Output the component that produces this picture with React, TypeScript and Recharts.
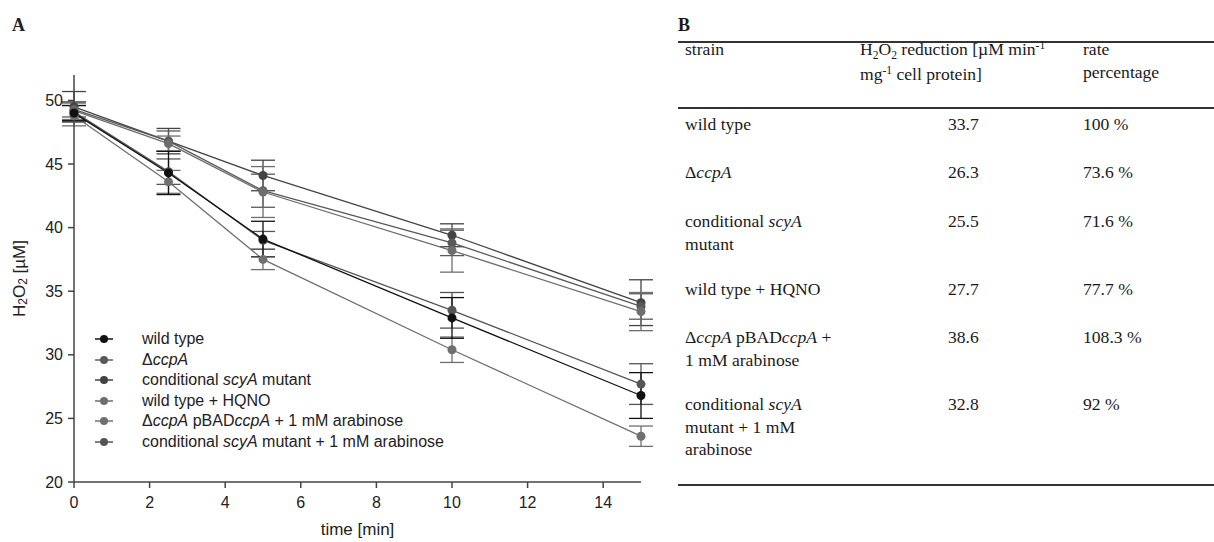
import React from "react";
import { LineChart, Line, XAxis, YAxis, ErrorBar, Legend, Label } from "recharts";

// time points (min)
const times = [0, 2.5, 5, 10, 15];

// H2O2 concentration [µM]
const wildType = [49.0, 44.3, 39.1, 32.9, 26.8];
const ccpA = [49.3, 46.8, 42.9, 38.8, 33.8];
const scyA = [49.5, 46.8, 44.1, 39.4, 34.1];
const hqno = [49.2, 46.6, 42.8, 38.2, 33.4];
const ccpAComp = [48.8, 43.6, 37.5, 30.4, 23.6];
const scyAComp = [49.1, 44.4, 39.0, 33.5, 27.7];

// standard deviations
const wildTypeErr = [0.6, 1.7, 1.4, 1.6, 1.8];
const ccpAErr = [0.6, 0.8, 1.3, 1.0, 1.0];
const scyAErr = [1.2, 1.0, 1.2, 0.9, 1.8];
const hqnoErr = [0.7, 0.6, 2.0, 1.7, 1.5];
const ccpACompErr = [0.8, 0.9, 0.8, 1.0, 0.8];
const scyACompErr = [0.7, 1.0, 0.7, 1.4, 1.6];

const xTicks = [0, 2, 4, 6, 8, 10, 12, 14];
const yTicks = [20, 25, 30, 35, 40, 45, 50];

// table B
const strains = [
  ["wild type"],
  ["Δ", <i key="i">ccpA</i>],
  ["conditional ", <i key="i">scyA</i>, <br key="b" />, "mutant"],
  ["wild type + HQNO"],
  ["Δ", <i key="i">ccpA</i>, " pBAD", <i key="j">ccpA</i>, " +", <br key="b" />, "1 mM arabinose"],
  ["conditional ", <i key="i">scyA</i>, <br key="b" />, "mutant + 1 mM", <br key="c" />, "arabinose"],
];
const rates = ["33.7", "26.3", "25.5", "27.7", "38.6", "32.8"];
const ratePct = ["100 %", "73.6 %", "71.6 %", "77.7 %", "108.3 %", "92 %"];
const rowBaselines = [130, 178, 227, 295, 343, 410];

const data = times.map((t, i) => ({
  t,
  wt: wildType[i],
  wtE: wildTypeErr[i],
  cc: ccpA[i],
  ccE: ccpAErr[i],
  sc: scyA[i],
  scE: scyAErr[i],
  hq: hqno[i],
  hqE: hqnoErr[i],
  cp: ccpAComp[i],
  cpE: ccpACompErr[i],
  sp: scyAComp[i],
  spE: scyACompErr[i],
}));

const series = [
  { key: "sc", err: "scE", color: "#444444", label: ["conditional ", <i key="i">scyA</i>, " mutant"] },
  { key: "cc", err: "ccE", color: "#5a5a5a", label: ["Δ", <i key="i">ccpA</i>] },
  { key: "hq", err: "hqE", color: "#6e6e6e", label: ["wild type + HQNO"] },
  { key: "cp", err: "cpE", color: "#707070", label: ["Δ", <i key="i">ccpA</i>, " pBAD", <i key="j">ccpA</i>, " + 1 mM arabinose"] },
  { key: "sp", err: "spE", color: "#555555", label: ["conditional ", <i key="i">scyA</i>, " mutant + 1 mM arabinose"] },
  { key: "wt", err: "wtE", color: "#111111", label: ["wild type"] },
];
const legendOrder = ["wt", "cc", "sc", "hq", "cp", "sp"];

const sans = "'Liberation Sans', Arial, sans-serif";
const serif = "'Liberation Serif', 'Times New Roman', serif";

const subStyle: React.CSSProperties = { fontSize: 11.5, position: "relative", top: 4, verticalAlign: "baseline" };
const supStyle: React.CSSProperties = { fontSize: 11.5, position: "relative", top: -6, verticalAlign: "baseline" };

function LegendBox() {
  return (
    <div style={{ fontFamily: sans, fontSize: 16, color: "#222", textAlign: "left" }}>
      {legendOrder.map((k) => {
        const s = series.find((x) => x.key === k)!;
        return (
          <div key={k} style={{ display: "flex", alignItems: "center", height: 20.5 }}>
            <svg width={40} height={12}>
              <line x1={5} x2={23} y1={6} y2={6} stroke={s.color} strokeWidth={1.5} />
              <circle cx={14} cy={6} r={4} fill={s.color} />
            </svg>
            <span style={{ marginLeft: 12 }}>{s.label}</span>
          </div>
        );
      })}
    </div>
  );
}

function YLabel(props: any) {
  const vb = props.viewBox;
  const cy = vb.y + vb.height / 2;
  const cx = 19;
  return (
    <text
      transform={`translate(${cx},${cy}) rotate(-90)`}
      textAnchor="middle"
      dominantBaseline="central"
      fontFamily={sans}
      fontSize={17}
      fill="#222"
    >
      H<tspan fontSize={12} dy={4}>2</tspan>
      <tspan dy={-4}>O</tspan>
      <tspan fontSize={12} dy={4}>2</tspan>
      <tspan dy={-4}> [µM]</tspan>
    </text>
  );
}

function TableB() {
  const rule = (top: number) => (
    <div style={{ position: "absolute", left: 678, width: 536, top, height: 2, background: "#333" }} />
  );
  const cell = (left: number, baseline: number, content: React.ReactNode, key: string) => (
    <div key={key} style={{ position: "absolute", left, top: baseline - 17, lineHeight: "22.5px", whiteSpace: "nowrap" }}>
      {content}
    </div>
  );
  return (
    <div style={{ fontFamily: serif, fontSize: 17.6, color: "#1a1a1a" }}>
      <div style={{ position: "absolute", left: 678, top: 15, fontWeight: "bold", fontSize: 18 }}>B</div>
      {rule(41)}
      {cell(685, 55, "strain", "h1")}
      {cell(
        860,
        55,
        <>
          H<span style={subStyle}>2</span>O<span style={subStyle}>2</span> reduction [µM min
          <span style={supStyle}>-1</span>
          <br />
          mg<span style={supStyle}>-1</span> cell protein]
        </>,
        "h2"
      )}
      {cell(
        1083,
        55,
        <>
          rate
          <br />
          percentage
        </>,
        "h3"
      )}
      {rule(107)}
      {strains.map((s, i) => cell(685, rowBaselines[i], s, "s" + i))}
      {rates.map((r, i) => cell(948, rowBaselines[i], r, "r" + i))}
      {ratePct.map((r, i) => cell(1083, rowBaselines[i], r, "p" + i))}
      {rule(484)}
    </div>
  );
}

export default function App() {
  return (
    <div style={{ position: "absolute", left: 0, top: 0, width: 1214, height: 542, background: "#fff" }}>
      <div style={{ position: "absolute", left: 12, top: 15, fontFamily: serif, fontWeight: "bold", fontSize: 18, color: "#222" }}>
        A
      </div>
      <div style={{ position: "absolute", left: 0, top: 0 }}>
        <LineChart width={680} height={542} data={data} margin={{ top: 75, right: 39, bottom: 30, left: 14 }}>
          <XAxis
            dataKey="t"
            type="number"
            domain={[0, 15]}
            ticks={xTicks}
            tickSize={6}
            tickMargin={9}
            axisLine={{ stroke: "#444", strokeWidth: 1.5 }}
            tickLine={{ stroke: "#444", strokeWidth: 1.5 }}
            tick={{ fontFamily: sans, fontSize: 16, fill: "#222" }}
            height={30}
          >
            <Label
              value="time [min]"
              position="bottom"
              offset={11}
              style={{ fontFamily: sans, fontSize: 17, fill: "#222" }}
            />
          </XAxis>
          <YAxis
            type="number"
            domain={[20, 52]}
            ticks={yTicks}
            tickSize={6}
            tickMargin={5}
            width={60}
            axisLine={{ stroke: "#444", strokeWidth: 1.5 }}
            tickLine={{ stroke: "#444", strokeWidth: 1.5 }}
            tick={{ fontFamily: sans, fontSize: 16, fill: "#222" }}
          >
            <Label content={<YLabel />} />
          </YAxis>
          <Legend
            layout="vertical"
            verticalAlign="middle"
            align="center"
            content={<LegendBox />}
            wrapperStyle={{ left: 90, top: 329, width: 380 }}
          />
          {series.map((s) => (
            <Line
              key={s.key}
              dataKey={s.key}
              type="linear"
              stroke={s.color}
              strokeWidth={1.3}
              dot={{ r: 4.5, fill: s.color, stroke: "none" }}
              activeDot={false}
              isAnimationActive={false}
            >
              <ErrorBar dataKey={s.err} width={12} stroke={s.color} strokeWidth={1.3} direction="y" isAnimationActive={false} />
            </Line>
          ))}
        </LineChart>
      </div>
      <TableB />
    </div>
  );
}
